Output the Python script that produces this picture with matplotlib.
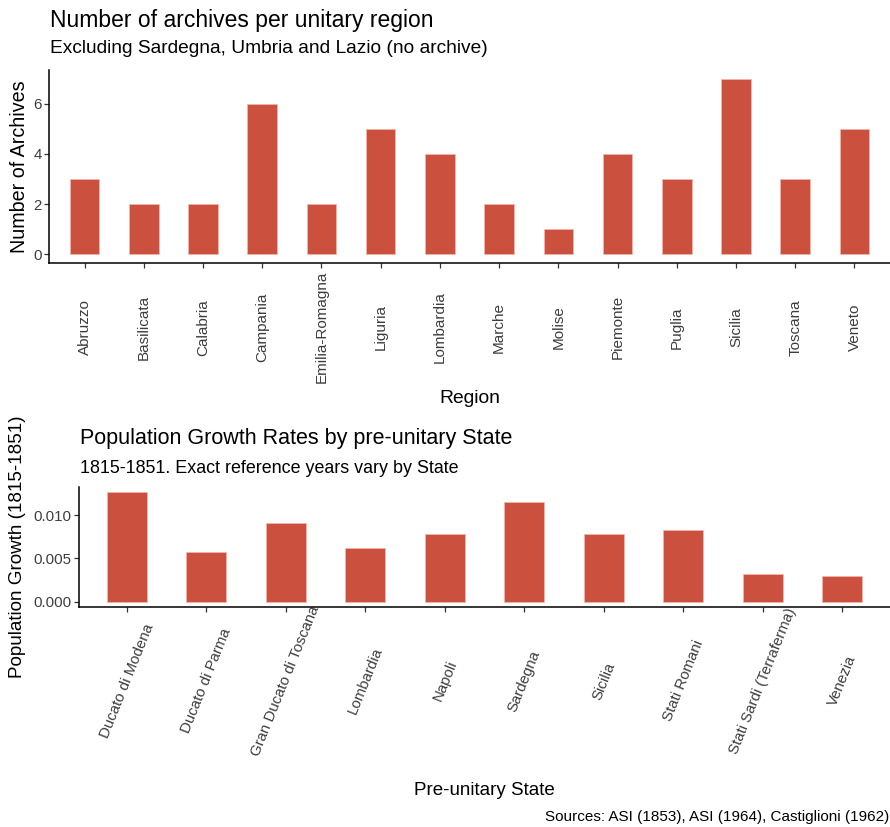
import matplotlib.pyplot as plt

plt.rcParams['font.family'] = ['Liberation Sans', 'DejaVu Sans']

# data, top chart
regions = ['Abruzzo', 'Basilicata', 'Calabria', 'Campania', 'Emilia-Romagna',
           'Liguria', 'Lombardia', 'Marche', 'Molise', 'Piemonte', 'Puglia',
           'Sicilia', 'Toscana', 'Veneto']
archives = [3, 2, 2, 6, 2, 5, 4, 2, 1, 4, 3, 7, 3, 5]

# data, bottom chart
states = ['Ducato di Modena', 'Ducato di Parma', 'Gran Ducato di Toscana',
          'Lombardia', 'Napoli', 'Sardegna', 'Sicilia', 'Stati Romani',
          'Stati Sardi (Terraferma)', 'Venezia']
growth = [0.01262, 0.00575, 0.00903, 0.00622, 0.00776, 0.01146, 0.00784,
          0.00826, 0.00324, 0.00301]

W, H = 890, 827
bar_color = '#CC503E'
tick_grey = '#3D3D3D'

fig = plt.figure(figsize=(W / 100, H / 100), dpi=100)


def style(ax, labelsize):
    for s in ['top', 'right']:
        ax.spines[s].set_visible(False)
    for s in ['left', 'bottom']:
        ax.spines[s].set_linewidth(1.1)
        ax.spines[s].set_color('black')
    ax.tick_params(axis='both', length=3.3, width=0.9, color='#333333',
                   labelcolor=tick_grey, labelsize=labelsize)
    ax.tick_params(axis='y', pad=2)


# top chart
ax1 = fig.add_axes([49 / W, 1 - 263 / H, (W - 49) / W, (263 - 70) / H])
x1 = range(len(regions))
ax1.bar(x1, archives, width=0.5, color=bar_color, edgecolor='#F2B8AE', linewidth=0.5)
ax1.set_xlim(-0.6, len(regions) - 0.4)
ax1.set_ylim(-0.35, 7.35)
ax1.set_yticks([0, 2, 4, 6])
ax1.set_xticks(list(x1))
ax1.set_xticklabels(regions, rotation=90, ha='center', va='center')
style(ax1, 11)
ax1.tick_params(axis='y', labelsize=10.8)
ax1.tick_params(axis='x', pad=43)
ax1.set_ylabel('Number of Archives', fontsize=14.2)
ax1.yaxis.set_label_coords((29 - 49) / (W - 49), 0.5)

fig.text(50 / W, 1 - 27 / H, 'Number of archives per unitary region',
         fontsize=16.5, va='baseline', ha='left')
fig.text(50 / W, 1 - 53 / H, 'Excluding Sardegna, Umbria and Lazio (no archive)',
         fontsize=13.8, va='baseline', ha='left')
fig.text((49 + W) / 2 / W, 1 - 403 / H, 'Region', fontsize=13.9,
         va='baseline', ha='center')

# bottom chart
ax2 = fig.add_axes([79 / W, 1 - 607 / H, (W - 79) / W, (607 - 487) / H])
x2 = range(len(states))
ax2.bar(x2, growth, width=0.5, color=bar_color, edgecolor='#F2B8AE', linewidth=0.5)
ax2.set_xlim(-0.6, len(states) - 0.4)
gmax = max(growth)
ax2.set_ylim(-0.05 * gmax, 1.05 * gmax)
ax2.set_yticks([0.0, 0.005, 0.010])
ax2.set_yticklabels(['0.000', '0.005', '0.010'])
ax2.set_xticks(list(x2))
ax2.set_xticklabels(states, rotation=68, ha='center', va='center')
style(ax2, 10.8)
ax2.tick_params(axis='x', pad=50)
ax2.set_ylabel('Population Growth (1815-1851)', fontsize=13.6)
ax2.yaxis.set_label_coords((26 - 79) / (W - 79), 0.5)

fig.text(80 / W, 1 - 444 / H, 'Population Growth Rates by pre-unitary State',
         fontsize=15.5, va='baseline', ha='left')
fig.text(80 / W, 1 - 473 / H, '1815-1851. Exact reference years vary by State',
         fontsize=12.9, va='baseline', ha='left')
fig.text((79 + W) / 2 / W, 1 - 795 / H, 'Pre-unitary State', fontsize=13.5,
         va='baseline', ha='center')
fig.text(889 / W, 1 - 821 / H, 'Sources: ASI (1853), ASI (1964), Castiglioni (1962)',
         fontsize=11, va='baseline', ha='right')

fig.savefig('out.png', dpi=100)
